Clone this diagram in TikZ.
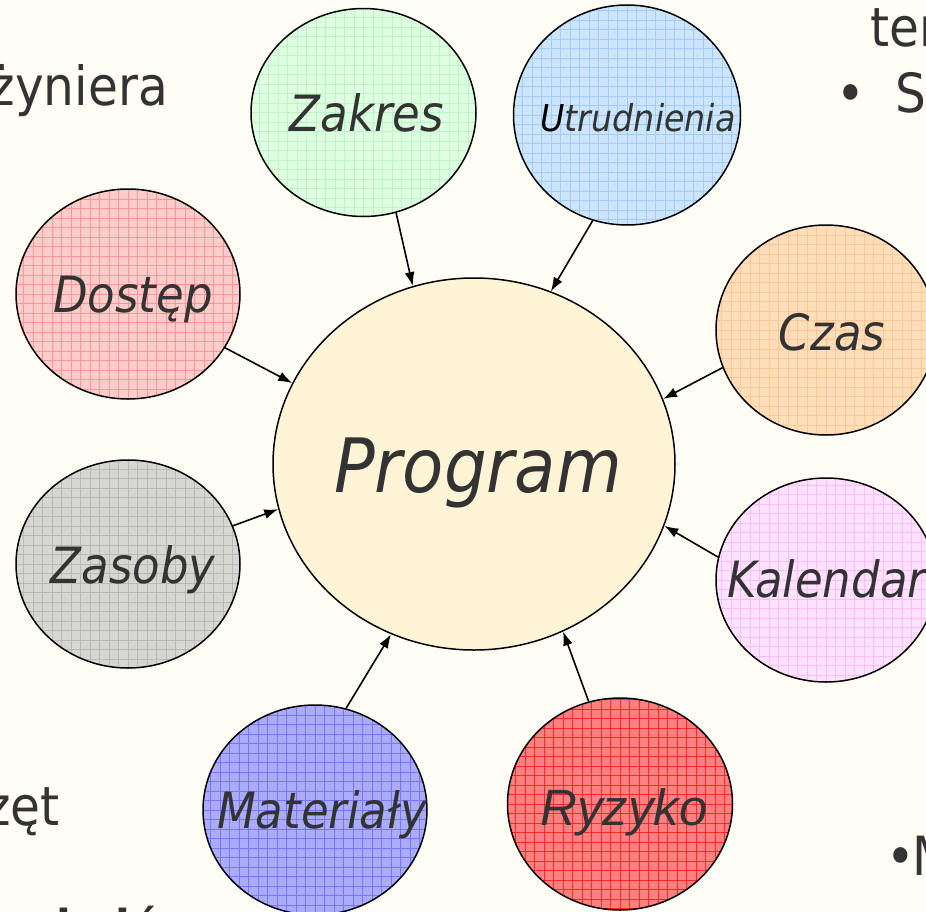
\documentclass[tikz,border=0pt]{standalone}
\usepackage{fontspec}
\setmainfont{DejaVu Sans}[FakeStretch=0.9]
\newfontfamily\riskfont{Liberation Sans}
\usetikzlibrary{shapes.geometric,arrows.meta}

\definecolor{paper}{RGB}{255,254,246}
\definecolor{ink}{RGB}{51,51,51}
\definecolor{progfill}{RGB}{255,245,214}
\definecolor{greenfill}{RGB}{222,255,224}
\definecolor{greenline}{RGB}{188,245,200}
\definecolor{bluefill}{RGB}{204,228,252}
\definecolor{blueline}{RGB}{160,205,250}
\definecolor{pinkfill}{RGB}{255,204,204}
\definecolor{pinkline}{RGB}{255,150,150}
\definecolor{peachfill}{RGB}{255,222,185}
\definecolor{peachline}{RGB}{255,198,150}
\definecolor{grayfill}{RGB}{214,214,210}
\definecolor{grayline}{RGB}{185,185,182}
\definecolor{lilacfill}{RGB}{255,226,255}
\definecolor{lilacline}{RGB}{250,190,250}
\definecolor{violetfill}{RGB}{172,172,255}
\definecolor{violetline}{RGB}{118,118,255}
\definecolor{redfill}{RGB}{255,128,128}
\definecolor{redline}{RGB}{255,40,40}

\tikzset{
  bubble/.style={ellipse, draw=black, line width=1.5pt, inner sep=0pt},
  mesh/.style 2 args={fill=#1, path picture={
      \draw[#2, line width=0.8pt, step=9.5pt]
        (path picture bounding box.south west) grid (path picture bounding box.north east);}},
  lbl/.style={font=\fontsize{50}{56}\selectfont\itshape, text=ink, inner sep=0pt, anchor=base},
  body/.style={font=\fontsize{54}{60}\selectfont, text=ink, inner sep=0pt},
  link/.style={-{Latex[length=14pt,width=10pt]}, line width=1.6pt}
}

\begin{document}
\begin{tikzpicture}[x=1pt,y=-1pt]
\useasboundingbox (0,0) rectangle (926,911);
\clip (0,0) rectangle (926,911);
\fill[paper] (0,0) rectangle (926,911);

% surrounding slide text
\node[body, anchor=base east] (wordA) at (168,105) {inżyniera};
\node[body, anchor=base west] (wordB) at (870,46) {ter};
\node[body, anchor=base west] (dotB) at (836,112) {•};
\node[body, anchor=base west] (wordC) at (895,112) {St};
\node[body, anchor=base east] (wordD) at (60,825) {sprzęt};
\node[body, anchor=base west] (dotE) at (886,875) {•};
\node[body, anchor=base west] (wordE) at (912,875) {M};
\node[font=\fontsize{48}{54}\selectfont\bfseries, text=ink, inner sep=0pt, anchor=base west] (wordF) at (56,944) {kuló};

% central ellipse
\node[bubble, fill=progfill, minimum width=402pt, minimum height=372pt] (program) at (474,464) {};
\node[lbl, font=\fontsize{75}{80}\selectfont\itshape] (programtxt) at (478,492) {Program};

% surrounding ellipses
\node[bubble, mesh={greenfill}{greenline}, minimum width=225pt, minimum height=208pt] (zakres) at (363.5,112.5) {};
\node[bubble, mesh={bluefill}{blueline}, minimum width=227pt, minimum height=220pt] (utrud) at (627,115) {};
\node[bubble, mesh={pinkfill}{pinkline}, minimum width=224pt, minimum height=210pt] (dostep) at (128,294) {};
\node[bubble, mesh={peachfill}{peachline}, minimum width=220pt, minimum height=210pt] (czas) at (826,330) {};
\node[bubble, mesh={grayfill}{grayline}, minimum width=224pt, minimum height=208pt] (zasoby) at (128,564) {};
\node[bubble, mesh={lilacfill}{lilacline}, minimum width=220pt, minimum height=204pt] (kalendarz) at (826,580) {};
\node[bubble, mesh={violetfill}{violetline}, minimum width=224pt, minimum height=210pt] (materialy) at (315,810) {};
\node[bubble, mesh={redfill}{redline}, minimum width=225pt, minimum height=212pt] (ryzyko) at (620,804) {};

% labels
\node[lbl] (zakrestxt) at (367,131) {Zakres};
\node[lbl, font=\fontsize{37}{42}\selectfont\itshape] (utrudtxt) at (638,131) {\textcolor{black}{U}trudnienia};
\node[lbl] (dosteptxt) at (133,312) {Dostęp};
\node[lbl] (czastxt) at (832,350) {Czas};
\node[lbl] (zasobytxt) at (133,583) {Zasoby};
\node[lbl, anchor=base west] (kalendarztxt) at (727,597) {Kalendarz};
\node[lbl] (materialytxt) at (322,828) {Materiały};
\node[lbl, font=\fontsize{51}{56}\selectfont\riskfont\itshape] (ryzykotxt) at (624,825) {Ryzyko};

% connectors
\draw[link] (zakres.-72) -- (program.109);
\draw[link] (utrud.-108) -- (program.66);
\draw[link] (dostep.-29) -- (program.156);
\draw[link] (czas.200) -- (program.19);
\draw[link] (zasoby.20) -- (program.193);
\draw[link] (kalendarz.168) -- (program.-18);
\draw[link] (materialy.73) -- (program.-116);
\draw[link] (ryzyko.107) -- (program.-62);
\end{tikzpicture}
\end{document}
